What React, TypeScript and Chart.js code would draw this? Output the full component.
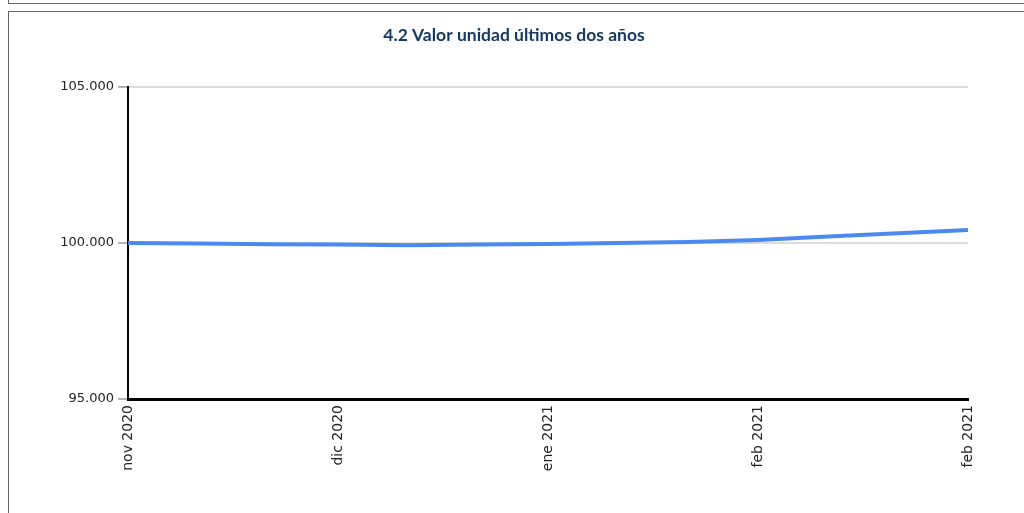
import React, { useEffect, useRef } from "react";
import { Chart, registerables } from "chart.js";

Chart.register(...registerables);

const categories = [
  "2020-11-23", "2020-12-01", "2020-12-09", "2020-12-17", "2020-12-25",
  "2021-01-02", "2021-01-10", "2021-01-18", "2021-01-26", "2021-02-03",
  "2021-02-11", "2021-02-19", "2021-02-27",
];
const values = [
  100000, 99980, 99960, 99950, 99930, 99950, 99970, 100000, 100030, 100100,
  100210, 100310, 100420,
];
const monthNames = ["ene", "feb", "mar", "abr", "may", "jun", "jul", "ago", "sep", "oct", "nov", "dic"];
const yTicks = [95000, 100000, 105000];
const tickEvery = 3;
const title = "4.2 Valor unidad últimos dos años";

function fmtThousands(v: number): string {
  const s = Math.round(v).toString();
  return s.replace(/\B(?=(\d{3})+(?!\d))/g, ".");
}

function monthLabel(d: string): string {
  const [y, m] = d.split("-");
  return monthNames[parseInt(m, 10) - 1] + " " + y;
}

export default function App() {
  const ref = useRef<HTMLCanvasElement | null>(null);
  useEffect(() => {
    if (!ref.current) return;
    const chart = new Chart(ref.current, {
      type: "line",
      data: {
        labels: categories,
        datasets: [
          {
            data: values,
            borderColor: "#4a8af0",
            borderWidth: 4,
            pointRadius: 0,
            tension: 0,
            fill: false,
          },
        ],
      },
      options: {
        responsive: false,
        animation: false,
        layout: { padding: { left: 60, right: 56, top: 0, bottom: 0 } },
        plugins: {
          legend: { display: false },
          tooltip: { enabled: false },
          title: {
            display: true,
            text: title,
            color: "#173a63",
            font: { family: "Lato", size: 17.5, weight: "bold", lineHeight: 1.2 },
            padding: { top: 24.5, bottom: 41.5 },
          },
        },
        scales: {
          x: {
            type: "category",
            offset: false,
            grid: { display: false, drawTicks: false },
            border: { display: true, color: "#000", width: 3 },
            ticks: {
              autoSkip: false,
              minRotation: 90,
              maxRotation: 90,
              padding: 6,
              color: "#222",
              font: { family: "DejaVu Sans", size: 14 },
              callback: (_v: any, i: number) =>
                i % tickEvery === 0 ? monthLabel(categories[i]) : "",
            },
            afterFit: (s: any) => {
              s.height = 114;
            },
          },
          y: {
            min: yTicks[0],
            max: yTicks[yTicks.length - 1],
            afterBuildTicks: (s: any) => {
              s.ticks = yTicks.map((v) => ({ value: v }));
            },
            grid: {
              color: "#dcdcdc",
              lineWidth: 2,
              tickColor: "#666",
              tickLength: 10,
              tickWidth: 1,
            },
            border: { display: true, color: "#000", width: 2 },
            ticks: {
              padding: 4,
              color: "#222",
              font: { family: "DejaVu Sans", size: 13 },
              callback: (v: any) => fmtThousands(Number(v)),
            },
            afterFit: (s: any) => {
              s.width = 68;
            },
          },
        },
      },
    });
    return () => chart.destroy();
  }, []);

  return (
    <div style={{ position: "absolute", left: 0, top: 0, width: 1024, height: 513, overflow: "hidden", background: "#fff" }}>
      <div style={{ position: "absolute", left: 8, top: -10, width: 2000, height: 12, border: "1px solid #666" }} />
      <div style={{ position: "absolute", left: 8, top: 11, width: 2000, height: 1000, borderTop: "1px solid #666", borderLeft: "1px solid #666" }} />
      <canvas ref={ref} width={1024} height={513} style={{ position: "absolute", left: 0, top: 0 }} />
    </div>
  );
}
